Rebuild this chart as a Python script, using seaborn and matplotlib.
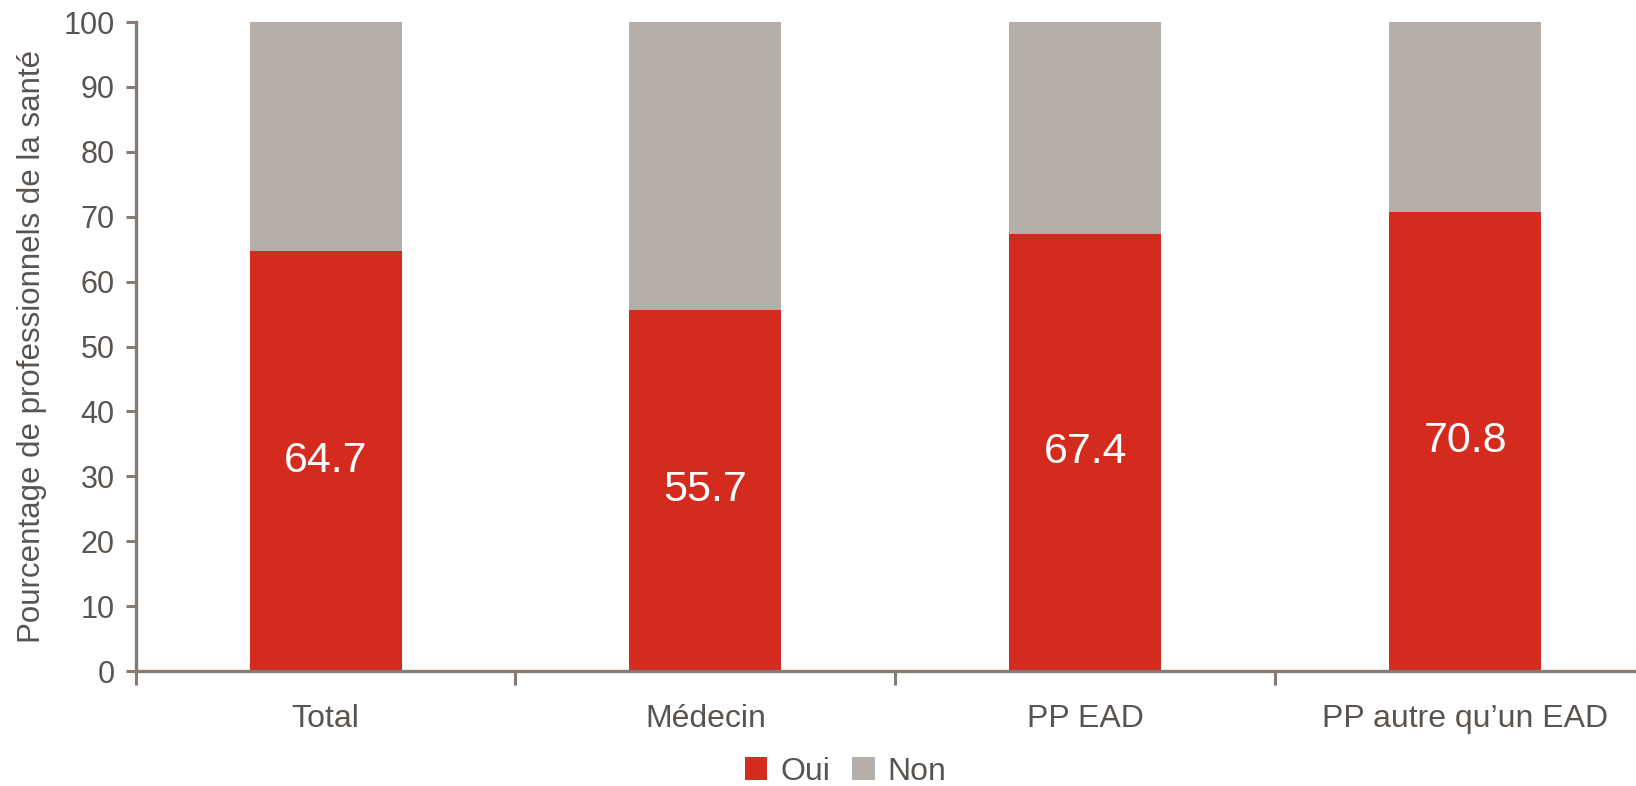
import matplotlib
matplotlib.use("Agg")
import matplotlib.pyplot as plt
from matplotlib.patches import Patch
from matplotlib.ticker import FixedLocator
import seaborn as sns
import pandas as pd

categories = ["Total", "Médecin", "PP EAD", "PP autre qu\u2019un EAD"]
oui = [64.7, 55.7, 67.4, 70.8]
non = [35.3, 44.3, 32.6, 29.2]
series_labels = ["Oui", "Non"]
y_ticks = [0, 10, 20, 30, 40, 50, 60, 70, 80, 90, 100]
y_label = "Pourcentage de professionnels de la santé"

RED = "#D52B1E"
GREY = "#B5ADA8"
AXIS = "#857B74"
TEXT = "#595450"

sns.set_theme(style="white")
plt.rcParams["font.family"] = ["Liberation Sans", "DejaVu Sans"]

df = pd.DataFrame({"cat": categories, "oui": oui, "non": non})

fig = plt.figure(figsize=(16.36, 7.86), dpi=100)
ax = fig.add_axes([0.0829, 0.1463, 0.9171, 0.8257])

sns.barplot(data=df, x="cat", y="oui", color=RED, width=0.4, saturation=1,
            ax=ax, order=categories, linewidth=0)
sns.barplot(data=df, x="cat", y="non", color=GREY, width=0.4, saturation=1,
            ax=ax, order=categories, bottom=df["oui"].to_numpy(), linewidth=0)

for i, v in enumerate(oui):
    ax.text(i, v / 2, f"{v:.1f}", ha="center", va="center",
            color="white", fontsize=31)

ax.set_ylim(0, 100)
ax.set_xlim(-0.5, 3.45)
ax.set_yticks(y_ticks)
ax.set_xlabel("")
ax.set_ylabel(y_label, fontsize=22.5, color=TEXT, labelpad=12)

# category boundaries carry the tick marks, labels sit at the centres
ax.xaxis.set_major_locator(FixedLocator([-0.5, 0.5, 1.5, 2.5]))
ax.xaxis.set_major_formatter(plt.NullFormatter())
ax.xaxis.set_minor_locator(FixedLocator(range(len(categories))))
ax.set_xticklabels(categories, minor=True)
ax.tick_params(axis="x", which="major", direction="out", length=10,
               width=2.2, color=AXIS, bottom=True)
ax.tick_params(axis="x", which="minor", length=0, pad=24,
               labelsize=23, labelcolor=TEXT, bottom=True)
ax.tick_params(axis="y", direction="out", length=7, width=2.2, color=AXIS,
               labelsize=22, labelcolor=TEXT, pad=8, left=True)

for side in ["top", "right"]:
    ax.spines[side].set_visible(False)
for side in ["left", "bottom"]:
    ax.spines[side].set_color(AXIS)
    ax.spines[side].set_linewidth(2.4)

handles = [Patch(facecolor=RED, edgecolor="none"),
           Patch(facecolor=GREY, edgecolor="none")]
fig.legend(handles, series_labels, loc="center", bbox_to_anchor=(0.517, 0.018),
           ncol=2, frameon=False, fontsize=23, handlelength=0.7,
           handleheight=0.7, handletextpad=0.4, columnspacing=0.7,
           labelcolor=TEXT, borderpad=0)

fig.savefig("out.png", dpi=100)
